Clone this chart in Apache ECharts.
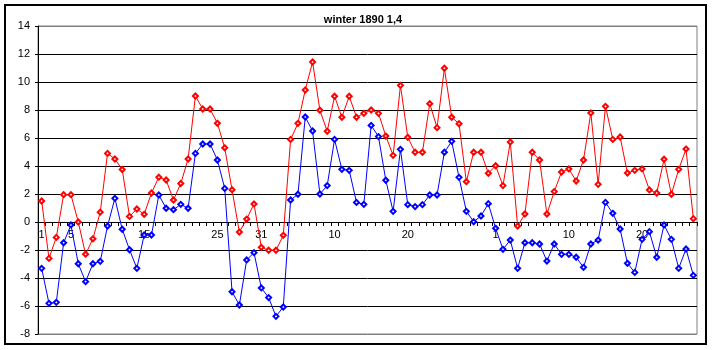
<!DOCTYPE html>
<html>
<head>
<meta charset="utf-8">
<script src="https://cdn.jsdelivr.net/npm/echarts@6/dist/echarts.min.js"></script>
<style>
  html, body { margin: 0; padding: 0; background: #fff; }
  #chart { width: 713px; height: 350px; }
</style>
</head>
<body>
<div id="chart"></div>
<script>
// Daily readings, December 1889 through February 1890 (90 days)
const redSeries = [
  1.5, -2.6, -1.1, 1.95, 1.95, 0.0, -2.3, -1.2, 0.7, 4.9,
  4.5, 3.75, 0.4, 0.93, 0.55, 2.07, 3.2, 3.0, 1.57, 2.75,
  4.5, 9.0, 8.07, 8.07, 7.05, 5.3, 2.3, -0.72, 0.21, 1.29,
  -1.81, -2.02, -2.02, -0.95, 5.9, 7.05, 9.43, 11.43, 7.98, 6.48,
  8.98, 7.48, 8.98, 7.48, 7.76, 8.0, 7.76, 6.14, 4.76, 9.76,
  6.05, 4.98, 4.98, 8.45, 6.74, 10.98, 7.48, 7.02, 2.88, 4.98,
  4.98, 3.48, 4.02, 2.6, 5.71, -0.29, 0.57, 4.98, 4.43, 0.57,
  2.17, 3.57, 3.79, 2.93, 4.43, 7.79, 2.69, 8.26, 5.9, 6.07,
  3.5, 3.69, 3.79, 2.29, 2.07, 4.48, 1.98, 3.76, 5.21, 0.24
];
const blueSeries = [
  -3.31, -5.81, -5.74, -1.48, -0.21, -2.98, -4.26, -2.98, -2.81, -0.29,
  1.69, -0.52, -1.98, -3.31, -0.93, -0.93, 1.93, 0.98, 0.88, 1.26,
  0.98, 4.9, 5.57, 5.57, 4.43, 2.4, -4.98, -5.93, -2.71, -2.19,
  -4.71, -5.4, -6.74, -6.07, 1.57, 1.98, 7.5, 6.5, 2.0, 2.6,
  5.9, 3.76, 3.69, 1.4, 1.26, 6.9, 6.1, 2.98, 0.76, 5.19,
  1.24, 1.1, 1.24, 1.93, 1.93, 4.98, 5.76, 3.19, 0.76, 0.02,
  0.43, 1.31, -0.45, -1.95, -1.29, -3.31, -1.48, -1.48, -1.57, -2.79,
  -1.57, -2.31, -2.31, -2.52, -3.24, -1.57, -1.29, 1.4, 0.62, -0.5,
  -2.95, -3.6, -1.24, -0.69, -2.52, -0.21, -1.24, -3.31, -1.93, -3.81
];

// Day labels shown under the axis: [category index, text]
const dayLabelMarks = [
  [0, '1'], [4, '5'], [14, '15'], [24, '25'], [30, '31'],
  [40, '10'], [50, '20'], [62, '1'], [72, '10'], [82, '20']
];

const yMin = -8, yMax = 14, yStep = 2;
const chartTitle = 'winter 1890 1,4';

const categories = redSeries.map(() => '');
dayLabelMarks.forEach(([i, t]) => { categories[i] = t; });

const FONT = 'Liberation Sans, Arial, sans-serif';
const nLines = (yMax - yMin) / yStep + 1;
const splitColors = [];
for (let k = 0; k < nLines; k++) {
  splitColors.push(k === 0 || k === nLines - 1 ? '#808080' : '#000000');
}

// Plot box in pixels
const GRID = { left: 38, right: 16, top: 26, bottom: 16 };
const plotH = 350 - GRID.top - GRID.bottom;
// Distance from the bottom of the plot up to the zero line
const zeroLift = plotH * (0 - yMin) / (yMax - yMin);

const chart = echarts.init(document.getElementById('chart'), null, { renderer: 'canvas' });
chart.setOption({
  animation: false,
  backgroundColor: '#ffffff',
  title: {
    text: chartTitle,
    left: 358,
    textAlign: 'center',
    top: 9,
    textStyle: { fontFamily: FONT, fontSize: 11, fontWeight: 'bold', color: '#000' }
  },
  graphic: [{
    type: 'rect',
    shape: { x: 5, y: 5, width: 701, height: 339 },
    style: { fill: 'none', stroke: '#000', lineWidth: 2 },
    silent: true,
    z: 0
  }],
  grid: Object.assign({
    show: true,
    borderColor: '#808080',
    borderWidth: 1,
    backgroundColor: 'transparent'
  }, GRID),
  xAxis: [
    {
      // axis line with ticks crossing at zero
      type: 'category',
      data: categories,
      boundaryGap: true,
      axisLine: { show: true, onZero: true, lineStyle: { color: '#000', width: 1 } },
      axisTick: { show: true, interval: 0, length: 4, inside: false, lineStyle: { color: '#000' } },
      axisLabel: { show: false },
      splitLine: { show: false }
    },
    {
      // day labels placed just under the zero line
      type: 'category',
      data: categories,
      boundaryGap: true,
      position: 'bottom',
      offset: -zeroLift,
      axisLine: { show: false, onZero: false },
      axisTick: { show: false },
      axisLabel: {
        interval: 0, margin: 7, color: '#000',
        fontFamily: FONT, fontSize: 11
      },
      splitLine: { show: false }
    }
  ],
  yAxis: {
    type: 'value',
    min: yMin, max: yMax, interval: yStep,
    axisLine: { show: true, lineStyle: { color: '#000', width: 1 } },
    axisTick: { show: true, length: 3, lineStyle: { color: '#000' } },
    axisLabel: { margin: 8, color: '#000', fontFamily: FONT, fontSize: 11 },
    splitLine: { show: true, lineStyle: { color: splitColors, width: 1 } }
  },
  series: [
    {
      type: 'line',
      data: redSeries,
      xAxisIndex: 0,
      symbol: 'emptyDiamond',
      symbolSize: 5,
      showSymbol: true,
      showAllSymbol: true,
      lineStyle: { color: '#ff0000', width: 1 },
      itemStyle: { color: '#ff0000', borderColor: '#ff0000', borderWidth: 1 },
      z: 3
    },
    {
      type: 'line',
      data: blueSeries,
      xAxisIndex: 0,
      symbol: 'emptyDiamond',
      symbolSize: 5,
      showSymbol: true,
      showAllSymbol: true,
      lineStyle: { color: '#0000ff', width: 1 },
      itemStyle: { color: '#0000ff', borderColor: '#0000ff', borderWidth: 1 },
      z: 4
    }
  ]
});
</script>
</body>
</html>
